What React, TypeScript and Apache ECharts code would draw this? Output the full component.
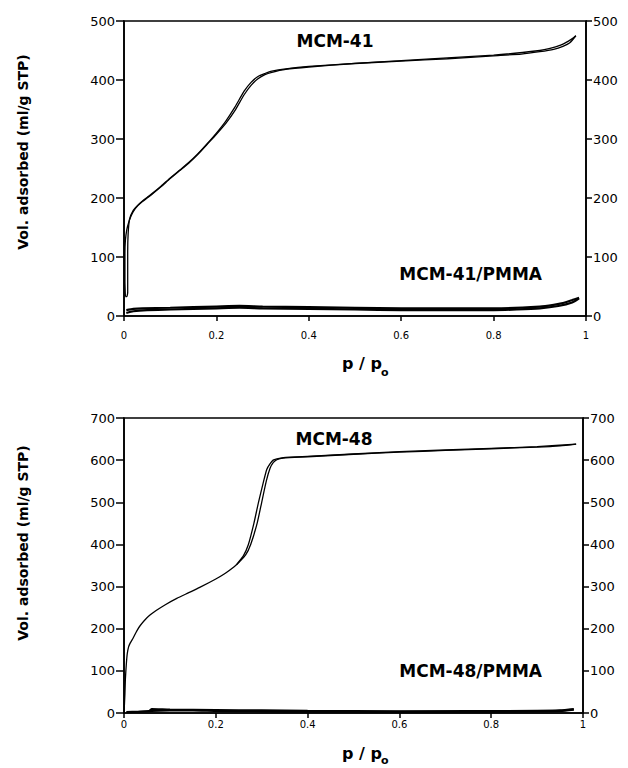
import React, { useEffect, useRef } from "react";
import * as echarts from "echarts";

// ---------- data ----------
const topYTicksMax = 500;
const bottomYTicksMax = 700;

// MCM-41 (p/p0, ml/g STP)
const mcm41Ads: [number, number][] = [
  [0.003, 33], [0.002, 60], [0.002, 105], [0.003, 128], [0.006, 146], [0.01, 158],
  [0.015, 169], [0.02, 177], [0.03, 187], [0.04, 194], [0.05, 200], [0.06, 206],
  [0.08, 219], [0.1, 233], [0.12, 246], [0.14, 259], [0.16, 274], [0.18, 291],
  [0.2, 308], [0.22, 326], [0.24, 348], [0.26, 375], [0.275, 391], [0.29, 402],
  [0.305, 409], [0.32, 413], [0.35, 418], [0.4, 422], [0.5, 428], [0.6, 432],
  [0.7, 436], [0.8, 441], [0.86, 444], [0.9, 448], [0.93, 452], [0.95, 457],
  [0.965, 463], [0.978, 475],
];
const mcm41Des: [number, number][] = [
  [0.978, 475], [0.972, 471], [0.962, 466], [0.945, 459], [0.92, 453], [0.9, 450],
  [0.8, 442], [0.6, 433], [0.4, 423], [0.35, 419], [0.32, 415], [0.305, 411],
  [0.29, 406], [0.275, 396], [0.26, 381], [0.24, 354], [0.22, 330], [0.2, 310],
  [0.18, 292], [0.16, 275], [0.14, 260], [0.12, 247], [0.1, 234], [0.08, 220],
  [0.06, 207], [0.05, 201], [0.04, 195], [0.03, 188], [0.02, 179], [0.012, 164],
  [0.009, 140], [0.008, 108], [0.008, 40], [0.006, 33], [0.003, 33],
];
// MCM-41/PMMA
const mcm41PmmaAds: [number, number][] = [
  [0.005, 5], [0.02, 8], [0.05, 10], [0.1, 11], [0.2, 13], [0.25, 14], [0.3, 13],
  [0.4, 12], [0.5, 11], [0.6, 10], [0.7, 10], [0.8, 10], [0.85, 11], [0.9, 13],
  [0.94, 17], [0.97, 23], [0.985, 30],
];
const mcm41PmmaDes: [number, number][] = [
  [0.985, 31], [0.97, 27], [0.95, 22], [0.93, 19], [0.9, 16], [0.8, 13], [0.6, 13],
  [0.4, 15], [0.3, 16], [0.25, 17], [0.2, 16], [0.1, 14], [0.04, 13], [0.02, 12],
  [0.005, 10],
];

// MCM-48
const mcm48Ads: [number, number][] = [
  [0, 0], [0.002, 45], [0.003, 80], [0.005, 115], [0.007, 140], [0.01, 157],
  [0.014, 167], [0.02, 178], [0.028, 195], [0.035, 207], [0.05, 226], [0.07, 243],
  [0.09, 257], [0.115, 272], [0.14, 285], [0.165, 298], [0.2, 318], [0.22, 331],
  [0.24, 347], [0.25, 357], [0.265, 375], [0.276, 400], [0.29, 450], [0.3, 500],
  [0.31, 550], [0.318, 580], [0.325, 594], [0.333, 601], [0.347, 605], [0.4, 608],
  [0.5, 614], [0.6, 619], [0.7, 623], [0.8, 627], [0.9, 631], [0.95, 634],
  [0.985, 638],
];
const mcm48Des: [number, number][] = [
  [0.985, 638], [0.9, 632], [0.8, 628], [0.6, 620], [0.4, 609], [0.347, 606],
  [0.333, 603], [0.325, 600], [0.318, 591], [0.311, 578], [0.303, 545],
  [0.293, 500], [0.283, 450], [0.271, 400], [0.26, 373], [0.245, 352],
];
// MCM-48/PMMA
const mcm48PmmaAds: [number, number][] = [
  [0.005, 2], [0.03, 3], [0.06, 5], [0.1, 6], [0.15, 6], [0.2, 5], [0.3, 4],
  [0.4, 3], [0.5, 3], [0.6, 3], [0.7, 3], [0.8, 3], [0.9, 4], [0.95, 5], [0.98, 8],
];
const mcm48PmmaDes: [number, number][] = [
  [0.98, 9], [0.95, 6], [0.9, 5], [0.6, 4], [0.4, 5], [0.3, 6], [0.2, 7],
  [0.1, 8], [0.06, 9], [0.055, 4],
];

const sampleLabels = ["MCM-41", "MCM-41/PMMA", "MCM-48", "MCM-48/PMMA"];
const yTitle = "Vol. adsorbed (ml/g STP)";

export default function App() {
  const ref = useRef<HTMLDivElement>(null);

  useEffect(() => {
    if (!ref.current) return;
    const chart = echarts.init(ref.current, null, { renderer: "svg" });
    const F = "DejaVu Sans";
    const black = "#000";

    const xAxisBase = (gridIndex: number, margin: number) => ({
      type: "value" as const,
      gridIndex,
      min: 0,
      max: 1,
      interval: 0.2,
      axisLine: { show: true, lineStyle: { color: black, width: 1.6 } },
      axisTick: { show: true, inside: false, length: 5, lineStyle: { color: black, width: 1.5 } },
      axisLabel: { color: black, fontFamily: F, fontSize: 10, margin },
      splitLine: { show: false },
    });
    const yAxisBase = (gridIndex: number, max: number, position: "left" | "right") => ({
      type: "value" as const,
      gridIndex,
      position,
      min: 0,
      max,
      interval: 100,
      axisLine: { show: true, onZero: false, lineStyle: { color: black, width: 1.6 } },
      axisTick: { show: true, inside: false, length: position === "left" ? 8 : 6, lineStyle: { color: black, width: 1.5 } },
      axisLabel: { color: black, fontFamily: F, fontSize: 13, margin: position === "left" ? 9 : 7 },
      splitLine: { show: false },
    });
    const line = (data: [number, number][], xi: number, yi: number, w = 1.3) => ({
      type: "line" as const,
      data,
      xAxisIndex: xi,
      yAxisIndex: yi,
      showSymbol: false,
      symbol: "none",
      smooth: 0.2,
      lineStyle: { color: black, width: w },
      silent: true,
    });

    const txt = (text: string, x: number, y: number, size: number, align = "center", rot = 0) => ({
      type: "text" as const,
      x,
      y,
      rotation: rot,
      style: {
        text,
        fill: black,
        font: `bold ${size}px "${F}"`,
        textAlign: align,
        textVerticalAlign: "middle",
      },
    });

    chart.setOption({
      animation: false,
      backgroundColor: "#fff",
      grid: [
        { left: 124, top: 21, width: 462, height: 295, show: true, borderColor: black, borderWidth: 1.6, backgroundColor: "transparent" },
        { left: 124, top: 418, width: 459, height: 295, show: true, borderColor: black, borderWidth: 1.6, backgroundColor: "transparent" },
      ],
      xAxis: [xAxisBase(0, 14), xAxisBase(1, 6)],
      yAxis: [
        yAxisBase(0, topYTicksMax, "left"),
        yAxisBase(0, topYTicksMax, "right"),
        yAxisBase(1, bottomYTicksMax, "left"),
        yAxisBase(1, bottomYTicksMax, "right"),
      ],
      series: [
        line(mcm41Ads, 0, 0),
        line(mcm41Des, 0, 0),
        line(mcm41PmmaAds, 0, 0, 2.2),
        line(mcm41PmmaDes, 0, 0, 2.2),
        line(mcm48Ads, 1, 2),
        line(mcm48Des, 1, 2),
        line(mcm48PmmaAds, 1, 2, 2.2),
        line(mcm48PmmaDes, 1, 2, 2.2),
      ],
      graphic: [
        txt(sampleLabels[0], 335, 41, 17),
        txt(sampleLabels[1], 542, 274, 17, "right"),
        txt(sampleLabels[2], 334, 439, 17),
        txt(sampleLabels[3], 542, 671, 17, "right"),
        txt(yTitle, 23, 152, 14, "center", Math.PI / 2),
        txt(yTitle, 23, 543, 14, "center", Math.PI / 2),
        txt("p / p", 362, 363, 16),
        txt("o", 381, 372, 11, "left"),
        txt("p / p", 362, 753, 16),
        txt("o", 381, 760, 11, "left"),
      ],
    });
    return () => chart.dispose();
  }, []);

  return (
    <div
      ref={ref}
      style={{ position: "fixed", left: 0, top: 0, width: 628, height: 768, background: "#fff" }}
    />
  );
}
